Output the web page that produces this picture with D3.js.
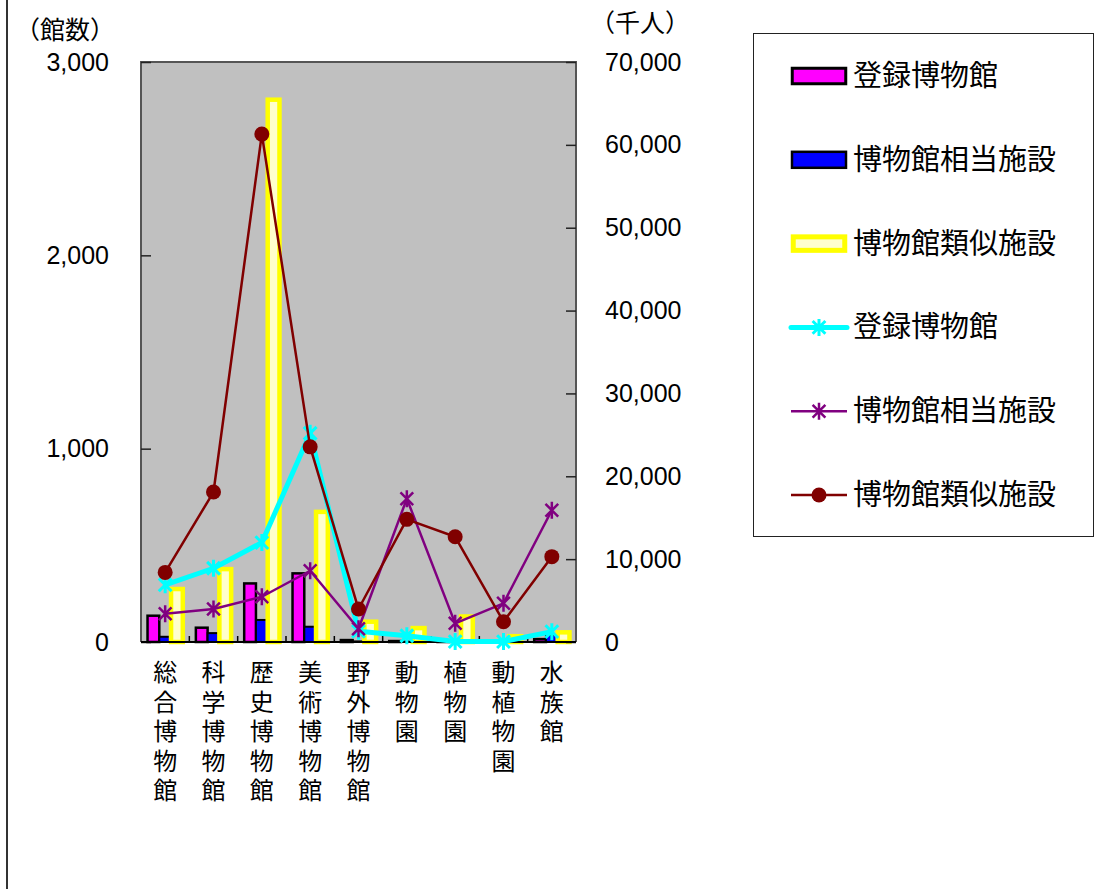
<!DOCTYPE html>
<html lang="ja">
<head>
<meta charset="utf-8">
<script src="https://cdn.jsdelivr.net/npm/d3@7/dist/d3.min.js"></script>
<style>
  html, body { margin: 0; padding: 0; background: #fff; }
  svg { display: block; }
  .num { font-family: "Liberation Sans", Arial, sans-serif; }
  .cjk { font-family: "Noto Sans CJK JP", "Noto Sans", sans-serif; }
</style>
</head>
<body>
<svg id="chart" width="1117" height="889"></svg>
<script>
// Museum categories and counts (left axis, number of facilities)
const categories = ["総合博物館", "科学博物館", "歴史博物館", "美術博物館", "野外博物館", "動物園", "植物園", "動植物園", "水族館"];
const countRegistered = [136, 74, 303, 355, 10, 5, 2, 2, 15];
const countEquivalent = [27, 46, 114, 79, 3, 2, 1, 1, 36];
const countSimilar = [274, 377, 2805, 673, 105, 72, 132, 30, 50];

// Visitors per category (right axis, thousand people)
const visitorsRegistered = [6900, 8900, 12000, 25200, 1300, 750, 50, 50, 1250];
const visitorsEquivalent = [3400, 3980, 5460, 8600, 1600, 17300, 2250, 4670, 15900];
const visitorsSimilar = [8400, 18100, 61300, 23550, 3980, 14800, 12700, 2450, 10300];

const leftTicks = [0, 1000, 2000, 3000];
const rightTicks = [0, 10000, 20000, 30000, 40000, 50000, 60000, 70000];
const leftUnit = "（館数）";
const rightUnit = "（千人）";

const barSeries = [
  { name: "登録博物館", values: countRegistered, fill: "#FF00FF", stroke: "#000000", sw: 2.5 },
  { name: "博物館相当施設", values: countEquivalent, fill: "#0000FF", stroke: "#000000", sw: 2 },
  { name: "博物館類似施設", values: countSimilar, fill: "#FFFFCC", stroke: "#FFFF00", sw: 4.5 }
];
const lineSeries = [
  { name: "登録博物館", values: visitorsRegistered, color: "#00FFFF", width: 5, marker: "star", msw: 3 },
  { name: "博物館相当施設", values: visitorsEquivalent, color: "#800080", width: 2.5, marker: "star", msw: 2.5 },
  { name: "博物館類似施設", values: visitorsSimilar, color: "#800000", width: 2.5, marker: "circle", msw: 0 }
];

const svg = d3.select("#chart");
const plot = { left: 141, right: 576, top: 62, bottom: 642 };

// Outer frame line on the left edge
svg.append("line").attr("x1", 7).attr("x2", 7).attr("y1", 0).attr("y2", 889)
  .attr("stroke", "#333").attr("stroke-width", 2);

const x = d3.scaleBand().domain(categories).range([plot.left, plot.right]).paddingInner(0).paddingOuter(0);
const yL = d3.scaleLinear().domain([0, 3000]).range([plot.bottom, plot.top]);
const yR = d3.scaleLinear().domain([0, 70000]).range([plot.bottom, plot.top]);

// Plot background
svg.append("rect").attr("x", plot.left).attr("y", plot.top)
  .attr("width", plot.right - plot.left).attr("height", plot.bottom - plot.top)
  .attr("fill", "#C0C0C0");

// Bars: three per category, grouped in the middle of each band
const groupW = x.bandwidth() * 0.73;
const xb = d3.scaleBand().domain(d3.range(barSeries.length)).range([0, groupW]);
barSeries.forEach((s, si) => {
  svg.append("g").selectAll("rect").data(s.values).join("rect")
    .attr("x", (d, i) => x(categories[i]) + (x.bandwidth() - groupW) / 2 + xb(si))
    .attr("y", d => yL(d))
    .attr("width", xb.bandwidth())
    .attr("height", d => plot.bottom - yL(d))
    .attr("fill", s.fill)
    .attr("stroke", s.stroke)
    .attr("stroke-width", s.sw);
});

// Plot frame: left, top, right
svg.append("path")
  .attr("d", `M${plot.left},${plot.bottom}V${plot.top}H${plot.right}V${plot.bottom}`)
  .attr("fill", "none").attr("stroke", "#555").attr("stroke-width", 2);

// Left axis (ticks pointing inward)
const leftAxis = svg.append("g").attr("transform", `translate(${plot.left},0)`)
  .call(d3.axisLeft(yL).tickValues(leftTicks).tickSizeInner(-10).tickSizeOuter(0).tickPadding(32)
    .tickFormat(d3.format(",")));
leftAxis.select(".domain").remove();
leftAxis.selectAll("line").attr("stroke", "#222").attr("stroke-width", 1.5);
leftAxis.selectAll("text").attr("class", "num").attr("font-size", 25).attr("fill", "#000");

// Right axis (ticks pointing inward)
const rightAxis = svg.append("g").attr("transform", `translate(${plot.right},0)`)
  .call(d3.axisRight(yR).tickValues(rightTicks).tickSizeInner(-10).tickSizeOuter(0).tickPadding(29)
    .tickFormat(d3.format(",")));
rightAxis.select(".domain").remove();
rightAxis.selectAll("line").attr("stroke", "#222").attr("stroke-width", 1.5);
rightAxis.selectAll("text").attr("class", "num").attr("font-size", 25).attr("fill", "#000");

// Bottom axis line and category boundary ticks
svg.append("line").attr("x1", plot.left).attr("x2", plot.right)
  .attr("y1", plot.bottom).attr("y2", plot.bottom)
  .attr("stroke", "#000").attr("stroke-width", 2);
svg.append("g").selectAll("line").data(categories.slice(1)).join("line")
  .attr("x1", d => x(d)).attr("x2", d => x(d))
  .attr("y1", plot.bottom).attr("y2", plot.bottom - 6)
  .attr("stroke", "#000").attr("stroke-width", 1.5);

// Category labels written vertically, one character per line
const catG = svg.append("g");
categories.forEach(c => {
  const t = catG.append("text").attr("class", "cjk").attr("font-size", 24)
    .attr("text-anchor", "middle").attr("fill", "#000");
  Array.from(c).forEach((ch, k) => {
    t.append("tspan").attr("x", x(c) + x.bandwidth() / 2)
      .attr("y", 681 + k * 29.5).text(ch);
  });
});

// Unit labels
svg.append("text").attr("class", "cjk").attr("x", 115).attr("y", 39)
  .attr("text-anchor", "end").attr("font-size", 25).text(leftUnit);
svg.append("text").attr("class", "cjk").attr("x", 590).attr("y", 32)
  .attr("font-size", 25).text(rightUnit);

// Marker drawing helpers
function starPath(cx, cy, r) {
  const d = r * 0.75;
  return `M${cx},${cy - r}V${cy + r}M${cx - d},${cy - d}L${cx + d},${cy + d}M${cx - d},${cy + d}L${cx + d},${cy - d}`;
}
function drawMarker(g, m, cx, cy, s) {
  if (m === "star") {
    g.append("path").attr("d", starPath(cx, cy, 8.5)).attr("stroke", s.color)
      .attr("stroke-width", s.msw).attr("fill", "none");
  } else {
    g.append("circle").attr("cx", cx).attr("cy", cy).attr("r", 7.5).attr("fill", s.color);
  }
}

// Visitor lines
const lineGen = d3.line()
  .x((d, i) => x(categories[i]) + x.bandwidth() / 2)
  .y(d => yR(d));
lineSeries.forEach(s => {
  const g = svg.append("g");
  g.append("path").datum(s.values).attr("d", lineGen)
    .attr("fill", "none").attr("stroke", s.color).attr("stroke-width", s.width)
    .attr("stroke-linejoin", "round");
  s.values.forEach((v, i) => drawMarker(g, s.marker, x(categories[i]) + x.bandwidth() / 2, yR(v), s));
});

// Legend
const legend = svg.append("g");
legend.append("rect").attr("x", 753.5).attr("y", 33.5).attr("width", 340).attr("height", 503)
  .attr("fill", "#fff").attr("stroke", "#222").attr("stroke-width", 1);
const legendRows = [
  ...barSeries.map(s => ({ type: "bar", s })),
  ...lineSeries.map(s => ({ type: "line", s }))
];
const rowY = d3.scalePoint().domain(d3.range(legendRows.length)).range([76, 495]);
legendRows.forEach((r, i) => {
  const cy = rowY(i);
  if (r.type === "bar") {
    const inset = r.s.sw / 2;
    legend.append("rect").attr("x", 792 + inset - 1).attr("y", cy - 8 + inset - 1)
      .attr("width", 54 - 2 * inset + 2).attr("height", 16 - 2 * inset + 2)
      .attr("fill", r.s.fill).attr("stroke", r.s.stroke).attr("stroke-width", r.s.sw + 0.5);
  } else {
    legend.append("line").attr("x1", 791).attr("x2", 847).attr("y1", cy).attr("y2", cy)
      .attr("stroke", r.s.color).attr("stroke-width", r.s.width === 5 ? 5 : 2.5)
      .attr("stroke-linecap", r.s.width === 5 ? "round" : "butt");
    drawMarker(legend, r.s.marker, 819, cy, r.s);
  }
  legend.append("text").attr("class", "cjk").attr("x", 853).attr("y", cy + 10)
    .attr("font-size", 29).attr("fill", "#000").text(r.s.name);
});
</script>
</body>
</html>
